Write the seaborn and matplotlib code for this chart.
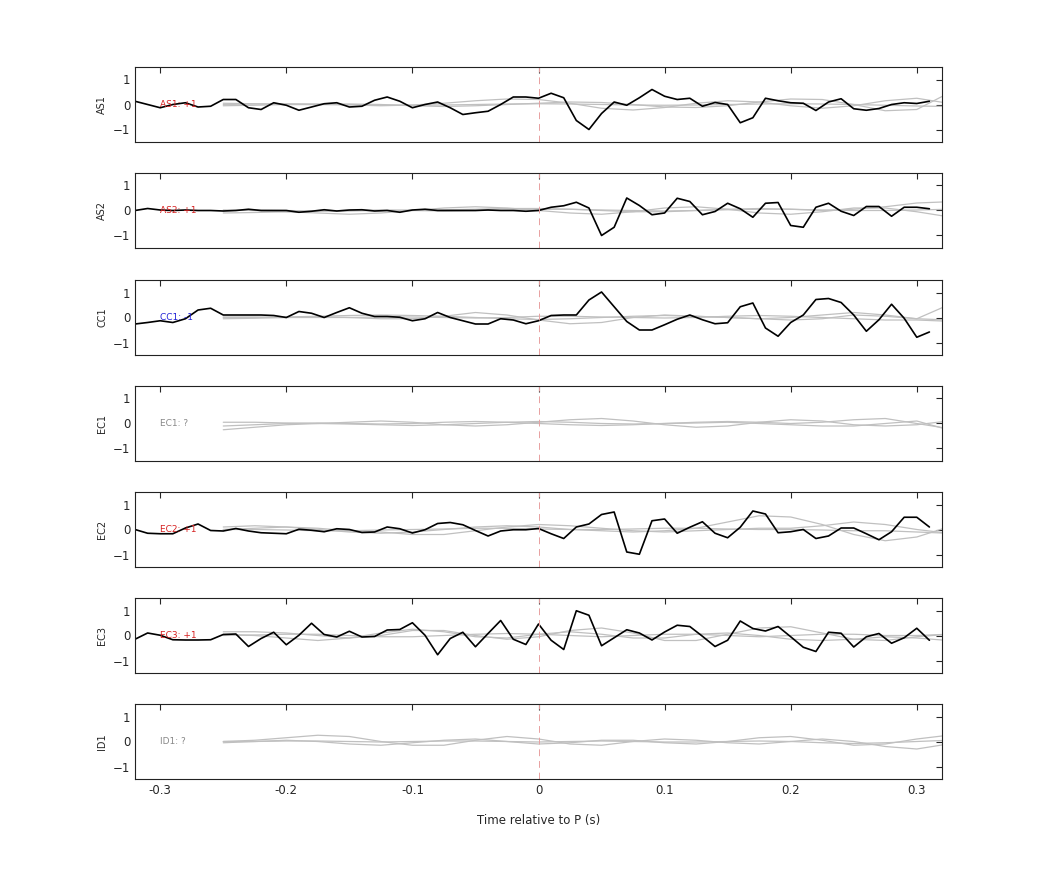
import numpy as np
import pandas as pd
import matplotlib
matplotlib.use("Agg")
import matplotlib.pyplot as plt
import seaborn as sns

# time axes
t_obs = np.round(np.arange(-0.32, 0.315, 0.01), 2)       # 64 samples
t_syn = np.round(np.arange(-0.25, 0.33, 0.025), 3)       # 24 samples

stations = ["AS1", "AS2", "CC1", "EC1", "EC2", "EC3", "ID1"]
polarity = ["+1", "+1", "-1", "?", "+1", "+1", "?"]
label_colors = ["#d62020", "#d62020", "#2020d6", "#888888", "#d62020", "#d62020", "#888888"]

as1 = [0.13, 0.0, -0.13, 0.0, 0.07, -0.1, -0.07, 0.2, 0.2, -0.13, -0.2, 0.07, -0.03, -0.23, -0.1, 0.03,
       0.07, -0.1, -0.07, 0.17, 0.3, 0.13, -0.13, 0.0, 0.1, -0.13, -0.4, -0.33, -0.27, 0.0, 0.3, 0.3,
       0.25, 0.45, 0.27, -0.64, -1.0, -0.36, 0.1, -0.03, 0.27, 0.6, 0.33, 0.2, 0.25, -0.07, 0.08, 0.0,
       -0.73, -0.53, 0.25, 0.15, 0.07, 0.05, -0.24, 0.1, 0.23, -0.17, -0.23, -0.16, 0.0, 0.07, 0.04, 0.13]
as2 = [0.0, 0.08, 0.02, 0.0, 0.02, 0.0, 0.0, -0.02, 0.0, 0.05, 0.0, 0.0, 0.0, -0.07, -0.03, 0.03,
       -0.02, 0.02, 0.03, -0.02, 0.0, -0.07, 0.02, 0.05, 0.0, 0.0, 0.0, 0.0, 0.02, 0.0, 0.0, -0.03,
       0.0, 0.13, 0.19, 0.33, 0.1, -1.0, -0.67, 0.5, 0.2, -0.17, -0.1, 0.49, 0.36, -0.17, -0.04, 0.29,
       0.07, -0.27, 0.29, 0.32, -0.6, -0.67, 0.13, 0.29, -0.03, -0.2, 0.16, 0.16, -0.23, 0.13, 0.13, 0.07]
cc1 = [-0.26, -0.2, -0.13, -0.2, -0.05, 0.3, 0.37, 0.1, 0.1, 0.1, 0.1, 0.08, 0.0, 0.24, 0.17, 0.0,
       0.2, 0.39, 0.17, 0.04, 0.04, 0.01, -0.13, -0.05, 0.2, 0.0, -0.13, -0.26, -0.26, -0.05, -0.1, -0.25,
       -0.13, 0.08, 0.1, 0.1, 0.7, 1.02, 0.43, -0.16, -0.5, -0.5, -0.29, -0.07, 0.1, -0.09, -0.25, -0.21,
       0.43, 0.58, -0.42, -0.75, -0.2, 0.1, 0.72, 0.76, 0.6, 0.1, -0.55, -0.09, 0.53, -0.03, -0.79, -0.58]
ec2 = [0.0, -0.15, -0.17, -0.17, 0.06, 0.22, -0.04, -0.06, 0.04, -0.06, -0.13, -0.15, -0.17, 0.01, -0.03, -0.09,
       0.03, 0.0, -0.12, -0.1, 0.1, 0.03, -0.14, -0.01, 0.24, 0.28, 0.19, -0.04, -0.26, -0.06, -0.01, -0.01,
       0.04, -0.17, -0.36, 0.1, 0.22, 0.6, 0.7, -0.9, -0.99, 0.35, 0.42, -0.15, 0.09, 0.31, -0.15, -0.33,
       0.09, 0.74, 0.62, -0.13, -0.09, 0.0, -0.36, -0.26, 0.06, 0.06, -0.17, -0.41, -0.09, 0.49, 0.49, 0.1]
ec3 = [-0.15, 0.1, 0.01, -0.17, -0.18, -0.18, -0.17, 0.04, 0.06, -0.44, -0.12, 0.13, -0.37, 0.01, 0.49, 0.04,
       -0.06, 0.17, -0.06, -0.04, 0.22, 0.24, 0.51, 0.01, -0.77, -0.12, 0.13, -0.45, 0.08, 0.6, -0.15, -0.36,
       0.46, -0.19, -0.56, 0.99, 0.81, -0.41, -0.09, 0.23, 0.1, -0.18, 0.14, 0.41, 0.36, -0.03, -0.44, -0.19,
       0.58, 0.28, 0.18, 0.36, -0.05, -0.47, -0.64, 0.13, 0.09, -0.46, -0.05, 0.08, -0.31, -0.09, 0.29, -0.19]
observed = [as1, as2, cc1, None, ec2, ec3, None]

# synthetic traces (grey), three per station, sampled every 0.025 s
syn = {
    "AS1": [[0.0, 0.02, 0.03, 0.02, 0.0, -0.02, -0.03, -0.02, 0.0, 0.02, 0.03, 0.02, 0.0, -0.02, -0.03, -0.02, 0.0, 0.02, 0.03, 0.02, 0.0, -0.03, -0.06, -0.08],
            [-0.05, -0.03, 0.0, 0.0, -0.02, -0.05, -0.02, 0.05, 0.15, 0.22, 0.2, 0.05, -0.15, -0.22, -0.12, 0.05, 0.15, 0.1, -0.05, -0.15, -0.05, 0.15, 0.25, 0.05],
            [0.05, 0.03, 0.0, 0.0, 0.02, 0.0, -0.05, -0.08, -0.05, 0.0, 0.05, 0.1, 0.08, 0.0, -0.1, -0.12, -0.05, 0.1, 0.22, 0.2, 0.0, -0.25, -0.2, 0.45]],
    "AS2": [[-0.1, -0.08, -0.05, -0.03, -0.02, 0.0, 0.02, 0.03, 0.05, 0.08, 0.08, 0.05, 0.0, -0.05, -0.05, 0.0, 0.05, 0.08, 0.05, 0.0, 0.05, 0.15, 0.3, 0.35],
            [0.02, 0.0, -0.05, -0.1, -0.15, -0.1, 0.0, 0.1, 0.15, 0.1, 0.0, -0.1, -0.15, -0.05, 0.1, 0.15, 0.05, -0.1, -0.15, -0.05, 0.1, 0.1, -0.05, -0.25],
            [0.0, 0.02, 0.0, -0.02, 0.0, 0.02, 0.0, -0.02, 0.0, 0.02, 0.05, 0.05, 0.02, 0.0, -0.02, 0.0, 0.03, 0.05, 0.05, 0.02, 0.0, 0.0, 0.02, 0.05]],
    "CC1": [[0.0, 0.0, 0.02, 0.05, 0.08, 0.1, 0.08, 0.05, 0.0, -0.05, -0.08, -0.05, 0.0, 0.05, 0.08, 0.05, 0.0, -0.05, 0.0, 0.1, 0.2, 0.1, -0.05, -0.1],
            [-0.05, -0.03, 0.0, 0.03, 0.0, -0.05, -0.05, 0.05, 0.2, 0.1, -0.1, -0.25, -0.2, 0.0, 0.1, 0.05, 0.0, -0.05, -0.1, -0.05, 0.1, 0.05, -0.05, 0.5],
            [0.02, 0.02, 0.0, 0.0, 0.0, 0.02, 0.02, 0.0, -0.02, 0.0, 0.05, 0.05, 0.02, 0.0, -0.02, 0.0, 0.05, 0.08, 0.05, 0.0, -0.05, -0.1, -0.1, -0.15]],
    "EC1": [[-0.25, -0.15, -0.05, 0.0, 0.05, 0.1, 0.05, -0.05, -0.1, -0.05, 0.05, 0.15, 0.2, 0.1, -0.05, -0.15, -0.1, 0.05, 0.15, 0.1, -0.05, -0.1, -0.05, 0.1],
            [-0.1, -0.05, 0.0, 0.02, 0.0, -0.02, 0.0, 0.05, 0.08, 0.05, 0.0, -0.05, -0.08, -0.05, 0.0, 0.05, 0.08, 0.05, 0.0, 0.05, 0.15, 0.2, 0.0, -0.2],
            [0.05, 0.05, 0.02, 0.0, -0.02, -0.05, -0.08, -0.05, 0.0, 0.05, 0.08, 0.05, 0.0, -0.02, 0.0, 0.02, 0.05, 0.0, -0.05, -0.1, -0.1, 0.0, 0.1, -0.25]],
    "EC2": [[0.1, 0.15, 0.1, 0.0, -0.1, -0.15, -0.1, 0.0, 0.1, 0.15, 0.1, 0.0, -0.05, -0.1, -0.05, 0.05, 0.3, 0.55, 0.5, 0.2, -0.2, -0.45, -0.3, 0.1],
            [0.0, 0.05, 0.1, 0.05, -0.05, -0.1, -0.2, -0.2, -0.05, 0.1, 0.2, 0.15, 0.05, -0.05, -0.1, -0.05, 0.0, 0.05, 0.05, 0.15, 0.3, 0.2, 0.0, -0.15],
            [0.0, 0.0, -0.02, -0.05, -0.05, -0.02, 0.0, 0.02, 0.05, 0.05, 0.02, 0.0, 0.0, 0.02, 0.05, 0.05, 0.02, 0.0, 0.0, -0.02, -0.05, -0.05, -0.1, -0.15]],
    "EC3": [[0.15, 0.15, 0.1, 0.0, -0.1, 0.0, 0.2, 0.2, 0.0, -0.15, -0.05, 0.2, 0.3, 0.1, -0.2, -0.2, 0.05, 0.3, 0.35, 0.1, -0.15, -0.2, -0.05, 0.05],
            [0.05, 0.0, -0.1, -0.2, -0.1, 0.1, 0.25, 0.15, -0.05, -0.1, 0.05, 0.15, 0.05, -0.1, -0.1, 0.05, 0.1, 0.0, -0.15, -0.2, -0.15, -0.05, -0.1, -0.2],
            [0.0, 0.02, 0.05, 0.05, 0.0, -0.05, -0.05, 0.0, 0.05, 0.08, 0.05, 0.0, -0.05, 0.0, 0.05, 0.05, 0.0, -0.05, 0.0, 0.05, 0.05, 0.0, 0.0, 0.05]],
    "ID1": [[0.0, 0.05, 0.15, 0.25, 0.2, 0.0, -0.15, -0.15, 0.05, 0.2, 0.1, -0.1, -0.15, 0.0, 0.1, 0.05, -0.05, -0.1, 0.0, 0.1, 0.0, -0.2, -0.3, -0.1],
            [-0.05, 0.0, 0.05, 0.0, -0.1, -0.15, -0.05, 0.05, 0.1, 0.0, -0.1, -0.05, 0.05, 0.05, -0.05, -0.1, 0.0, 0.15, 0.2, 0.05, -0.15, -0.1, 0.1, 0.25],
            [0.0, 0.0, 0.02, 0.02, 0.0, -0.02, 0.0, 0.02, 0.02, 0.0, -0.02, 0.0, 0.02, 0.0, -0.02, -0.02, 0.0, 0.02, 0.0, -0.05, -0.08, -0.05, 0.0, 0.05]],
}

sns.set_style("white")
plt.rcParams['font.family'] = ['DejaVu Sans']

fig = plt.figure(figsize=(10.42, 8.75), dpi=100)
W, H = 1042, 875
left, right = 135, 942
tops = [67, 173, 280, 386, 492, 598, 704]
ph = 75

for i, st in enumerate(stations):
    ax = fig.add_axes([left / W, 1 - (tops[i] + ph) / H, (right - left) / W, ph / H])
    for y in syn[st]:
        sns.lineplot(x=t_syn, y=y, ax=ax, color="#c0c0c0", lw=0.9, legend=False)
    if observed[i] is not None:
        sns.lineplot(x=t_obs, y=observed[i], ax=ax, color="black", lw=1.2, legend=False)
    ax.axvline(0, color="#e8a0a0", ls=(0, (7, 5)), lw=0.7)
    ax.text(-0.30, 0, f"{st}: {polarity[i]}", color=label_colors[i], fontsize=6.5, va="center", ha="left")
    ax.set_xlim(-0.32, 0.32)
    ax.set_ylim(-1.5, 1.5)
    ax.set_yticks([-1, 0, 1])
    ax.set_xticks([-0.3, -0.2, -0.1, 0, 0.1, 0.2, 0.3])
    ax.set_ylabel(st, fontsize=7)
    ax.tick_params(direction="in", top=True, right=True, labelsize=8.5, length=4, width=0.8)
    for s in ax.spines.values():
        s.set_linewidth(0.8)
        s.set_color("#222222")
    if i < len(stations) - 1:
        ax.set_xticklabels([])
    else:
        ax.set_xticklabels(["-0.3", "-0.2", "-0.1", "0", "0.1", "0.2", "0.3"])
        ax.set_xlabel("Time relative to P (s)", fontsize=8.5, labelpad=12)

fig.savefig("out.png", dpi=100)
